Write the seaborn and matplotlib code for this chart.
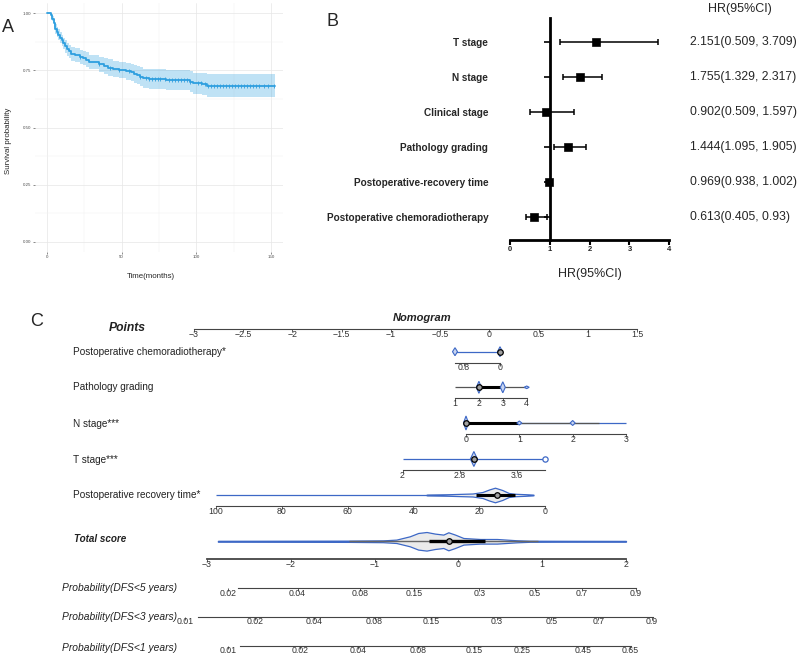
import numpy as np
import matplotlib
matplotlib.use('Agg')
import matplotlib.pyplot as plt
import matplotlib.transforms as mtransforms
import seaborn as sns

# ---------------- A: Kaplan-Meier curve ----------------
km_time = [0, 2.5, 3.5, 4.5, 5.5, 6.5, 7.5, 9, 10, 11, 12, 13.5, 14.5, 16, 19, 22, 24, 26, 28,
           35, 38, 41, 44, 48, 53, 56, 58, 60, 62, 64, 68, 80, 96, 98, 104, 107, 153]
km_surv = [1.0, .99, .975, .956, .93, .917, .905, .892, .88, .867, .854, .842, .833, .822, .815,
           .809, .803, .796, .786, .776, .768, .762, .757, .752, .746, .741, .735, .728, .722,
           .715, .712, .708, .70, .693, .688, .683, .683]
km_upper = [1.0, .998, .987, .972, .95, .939, .928, .916, .905, .893, .881, .87, .862, .852, .845,
            .84, .834, .828, .818, .809, .802, .797, .792, .788, .783, .779, .774, .768, .763,
            .757, .755, .753, .746, .74, .736, .733, .733]
km_lower = [1.0, .982, .963, .94, .91, .895, .882, .868, .855, .841, .827, .814, .804, .792, .785,
            .778, .772, .764, .754, .743, .734, .727, .722, .716, .709, .703, .696, .688, .681,
            .673, .669, .663, .654, .646, .64, .633, .633]
censor_time = [22, 35, 42, 48, 55, 62, 66, 68, 70, 72, 74, 76, 79, 82, 84, 86, 88, 90, 92, 94,
               96, 101, 103, 106, 108, 110, 112, 114, 116, 118, 120, 122, 124, 126, 128, 130,
               132, 134, 136, 138, 140, 142, 145, 148, 152]

# ---------------- B: forest plot ----------------
hr_vars = ['T stage', 'N stage', 'Clinical stage', 'Pathology grading',
           'Postoperative-recovery time', 'Postoperative chemoradiotherapy']
hr = [2.151, 1.755, 0.902, 1.444, 0.969, 0.613]
hr_low = [1.25, 1.329, 0.509, 1.095, 0.938, 0.405]
hr_high = [3.709, 2.317, 1.597, 1.905, 1.002, 0.93]
hr_text = ['2.151(0.509, 3.709)', '1.755(1.329, 2.317)', '0.902(0.509, 1.597)',
           '1.444(1.095, 1.905)', '0.969(0.938, 1.002)', '0.613(0.405, 0.93)']

# ---------------- C: nomogram ----------------
points_ticks = [-3, -2.5, -2, -1.5, -1, -0.5, 0, 0.5, 1, 1.5]
chemo_ticks = [0.8, 0]
path_ticks = [1, 2, 3, 4]
n_ticks = [0, 1, 2, 3]
t_ticks = [2, 2.8, 3.6]
rec_ticks = [100, 80, 60, 40, 20, 0]
total_ticks = [-3, -2, -1, 0, 1, 2]

dfs5_labels = ['0.02', '0.04', '0.08', '0.15', '0.3', '0.5', '0.7', '0.9']
dfs5_pos = [-2.75, -1.92, -1.17, -0.53, 0.25, 0.91, 1.47, 2.12]
dfs3_labels = ['0.01', '0.02', '0.04', '0.08', '0.15', '0.3', '0.5', '0.7', '0.9']
dfs3_pos = [-3.26, -2.43, -1.72, -1.0, -0.33, 0.46, 1.11, 1.67, 2.31]
dfs1_labels = ['0.01', '0.02', '0.04', '0.08', '0.15', '0.25', '0.45', '0.65']
dfs1_pos = [-2.75, -1.89, -1.2, -0.48, 0.19, 0.76, 1.49, 2.05]

# distribution marks of each variable
chemo_violin_pos = [1, 0]
chemo_violin_dens = [4, 5]
path_violin_pos = [2, 3, 4]
path_violin_dens = [6, 5.5, 1.3]
n_violin_pos = [0, 1, 2]
n_violin_dens = [7, 2, 2.5]
t_violin_pos = [3]
t_violin_dens = [7.5]
rec_violin_x = [36, 30, 22, 19, 17, 15.2, 13, 11, 9, 6, 3.5]
rec_violin_dens = [0.3, 0.7, 1.5, 3, 5.5, 7.3, 5, 2, 1.2, 0.8, 0.3]
total_violin_x = [-2.87, -2.0, -1.3, -0.9, -0.74, -0.58, -0.48, -0.38, -0.28, -0.18, -0.12,
                  -0.04, 0.06, 0.26, 0.46, 0.70, 0.85, 1.3, 2.0]
total_violin_dens = [0.4, 0.5, 0.6, 0.9, 1.7, 5.0, 8.3, 9.3, 7.7, 6.7, 9.0, 6.7, 3.3, 2.3, 2.3,
                     1.0, 0.5, 0.4, 0.3]

sns.set_theme(style='ticks')
plt.rcParams['font.family'] = ['Liberation Sans', 'DejaVu Sans']

W, H = 799, 656
fig = plt.figure(figsize=(W / 100, H / 100), dpi=100)


def fx(px):
    return px / W


def fy(py):
    return 1 - py / H


# ---- panel A ----
km_color = '#2E9FDF'
axa = fig.add_axes([fx(35), fy(252), 248 / W, 249 / H])
axa.fill_between(km_time, km_lower, km_upper, step='post', color=km_color, alpha=0.3, lw=0)
sns.lineplot(x=km_time, y=km_surv, drawstyle='steps-post', color=km_color, lw=1.3,
             estimator=None, ax=axa)
cens_y = [km_surv[np.searchsorted(km_time, t, side='right') - 1] for t in censor_time]
axa.plot(censor_time, cens_y, ls='none', marker='|', ms=2.5, mew=0.6, color=km_color)
axa.set_xlim(-8.04, 158.04)
axa.set_ylim(-0.0437, 1.0437)
axa.set_xticks([0, 50, 100, 150])
axa.set_xticks([25, 75, 125], minor=True)
axa.set_yticks([0, 0.25, 0.5, 0.75, 1])
axa.set_yticklabels(['0.00', '0.25', '0.50', '0.75', '1.00'])
axa.set_yticks([0.125, 0.375, 0.625, 0.875], minor=True)
axa.grid(True, which='major', color='#e6e6e6', lw=0.5)
axa.grid(True, which='minor', color='#f2f2f2', lw=0.35)
axa.set_axisbelow(True)
axa.tick_params(which='major', length=1.5, width=0.4, color='#333333', labelsize=3.2,
                labelcolor='#4d4d4d', pad=1)
axa.tick_params(which='minor', length=0)
for sp in axa.spines.values():
    sp.set_visible(False)
axa.set_ylabel('Survival probability', fontsize=5.7)
axa.yaxis.set_label_coords(-0.094, 0.446)
axa.set_xlabel('Time(months)', fontsize=5.7)
axa.xaxis.set_label_coords(0.468, -0.085)
fig.text(fx(8), fy(27), 'A', fontsize=13, ha='center', va='center')

# ---- panel B ----
axb = fig.add_axes([fx(510), fy(240), (669.3 - 510) / W, 222 / H])
ypos = np.arange(len(hr_vars))[::-1]
hr_a = np.array(hr)
axb.errorbar(hr_a, ypos, xerr=[hr_a - np.array(hr_low), np.array(hr_high) - hr_a], fmt='none',
             ecolor='black', elinewidth=1.1, capsize=2.4, capthick=1.1, zorder=2)
sns.scatterplot(x=hr, y=ypos, marker='s', s=34, color='black', edgecolor='black',
                legend=False, zorder=3, ax=axb)
axb.set_xlim(0, 4)
axb.set_ylim(-0.668, 5.697)
axb.spines['top'].set_visible(False)
axb.spines['right'].set_visible(False)
axb.spines['left'].set_position(('data', 1))
axb.spines['left'].set_linewidth(2)
axb.spines['bottom'].set_linewidth(2)
axb.spines['left'].set_color('black')
axb.spines['bottom'].set_color('black')
axb.set_xticks([0, 1, 2, 3, 4])
axb.set_yticks(ypos)
axb.set_yticklabels(hr_vars, fontweight='bold', fontsize=7.2)
axb.tick_params(axis='x', length=3.6, width=1.5, pad=0.8, labelsize=5.5, color='black')
axb.tick_params(axis='y', length=4.3, width=1.2, pad=40, color='black')
for lbl in axb.get_xticklabels():
    lbl.set_fontweight('bold')
blend = mtransforms.blended_transform_factory(axb.transAxes, axb.transData)
for y, txt in zip(ypos, hr_text):
    axb.text(1.13, y, txt, transform=blend, va='center', ha='left', fontsize=8.8)
axb.set_xlabel('HR(95%CI)', fontsize=9)
axb.xaxis.set_label_coords(0.5, -0.125)
fig.text(fx(740), fy(9), 'HR(95%CI)', fontsize=9, ha='center', va='center')
fig.text(fx(332), fy(22), 'B', fontsize=13, ha='center', va='center')

# ---- panel C ----
blue = '#3d68c6'
axis_col = '#444444'
txt_col = '#222222'


def nomo_axis(y_axis, gap, anchors, bounds, ticks, labels, lw=0.8):
    (v0, p0), (v1, p1) = anchors
    s = (p1 - p0) / (v1 - v0)
    ax = fig.add_axes([0, fy(y_axis), 1, 2 * gap / H])
    ax.set_xlim(v0 - p0 / s, v0 + (W - p0) / s)
    ax.set_ylim(-1, 1)
    ax.patch.set_alpha(0)
    for side in ['top', 'left', 'right']:
        ax.spines[side].set_visible(False)
    ax.spines['bottom'].set_bounds(*bounds)
    ax.spines['bottom'].set_color(axis_col)
    ax.spines['bottom'].set_linewidth(lw)
    ax.set_yticks([])
    ax.set_xticks(ticks)
    ax.set_xticklabels(labels)
    ax.tick_params(axis='x', length=2.5, width=0.6, pad=-2, labelsize=6.3, color=axis_col,
                   labelcolor='#333333')
    return ax, abs(s), gap


def fmt(v):
    return str(v).replace('-', '\u2212')


def seg(ax, rng, color, lw, z=2):
    ax.plot(rng, [0, 0], color=color, lw=lw, solid_capstyle='butt', zorder=z, clip_on=False)


def small_violins(ax, s, gap, pos, dens, hw_px=2.5):
    w = hw_px / s
    for v, d in zip(pos, dens):
        h = d / gap
        ax.fill([v - w, v, v + w, v], [0, h, 0, -h], facecolor='#c9d5f0', edgecolor=blue,
                lw=0.8, zorder=4, clip_on=False)


def median(ax, m):
    ax.plot(m, 0, 'o', ms=4, mfc='#a0a0a0', mec='black', mew=0.9, zorder=6, clip_on=False)


# Points axis
nomo_axis(329.3, 10, [(-3, 194), (1.5, 637)], (-3, 1.5), points_ticks,
          [fmt(v) for v in points_ticks])

# chemo
ax, s, g = nomo_axis(362.7, 11, [(1, 455), (0, 500)], (1, 0), chemo_ticks, ['0.8', '0'])
seg(ax, (1, 0), blue, 0.9)
small_violins(ax, s, g, chemo_violin_pos, chemo_violin_dens)
median(ax, 0)

# pathology
ax, s, g = nomo_axis(398.3, 11, [(1, 455), (4, 526.7)], (1, 4), path_ticks,
                     [str(v) for v in path_ticks])
seg(ax, (1, 4), '#555555', 0.9)
seg(ax, (2, 3), 'black', 2.2, z=3)
small_violins(ax, s, g, path_violin_pos, path_violin_dens)
median(ax, 2)

# N stage
ax, s, g = nomo_axis(434, 11, [(0, 466), (3, 626)], (0, 3), n_ticks, [str(v) for v in n_ticks])
seg(ax, (0, 3), blue, 0.9)
seg(ax, (0, 2.5), '#555555', 0.9)
seg(ax, (0, 1), 'black', 2.2, z=3)
small_violins(ax, s, g, n_violin_pos, n_violin_dens)
median(ax, 0)

# T stage
ax, s, g = nomo_axis(470, 11, [(2, 402.5), (3.6, 516.7)], (2, 4), t_ticks,
                     [str(v) for v in t_ticks])
seg(ax, (2, 4), blue, 0.9)
small_violins(ax, s, g, t_violin_pos, t_violin_dens, hw_px=3.5)
median(ax, 3)
ax.plot(4, 0, 'o', ms=3.8, mfc='white', mec=blue, mew=0.9, zorder=6, clip_on=False)

# recovery time
ax, s, g = nomo_axis(506, 11, [(100, 216), (0, 545)], (100, 0), rec_ticks,
                     [str(v) for v in rec_ticks])
seg(ax, (100, 3.5), blue, 0.9)
seg(ax, (36, 6), '#555555', 0.9)
ax.fill_between(rec_violin_x, -np.array(rec_violin_dens) / g, np.array(rec_violin_dens) / g,
                facecolor='#ebebeb', edgecolor=blue, lw=0.9, zorder=2)
seg(ax, (21, 9), 'black', 2.2, z=3)
median(ax, 14.6)

# total score
ax, s, g = nomo_axis(559.3, 18, [(-3, 207), (2, 626)], (-3, 2), total_ticks,
                     [fmt(v) for v in total_ticks], lw=1.3)
seg(ax, (-2.87, 2.0), blue, 0.9)
ax.fill_between(total_violin_x, -np.array(total_violin_dens) / g,
                np.array(total_violin_dens) / g, facecolor='#ebebeb', edgecolor=blue, lw=0.9,
                zorder=2)
seg(ax, (-1.3, 0.95), '#666666', 1.0, z=3)
seg(ax, (-0.35, 0.32), 'black', 2.4, z=4)
median(ax, -0.11)

# probability axes
total_anchor = [(-3, 207), (2, 626)]
nomo_axis(588.3, 6, total_anchor, (-2.63, 2.12), dfs5_pos, dfs5_labels)
nomo_axis(616.7, 6, total_anchor, (-3.11, 2.32), dfs3_pos, dfs3_labels)
nomo_axis(645.7, 6, total_anchor, (-2.61, 2.06), dfs1_pos, dfs1_labels)

# row labels
fig.text(fx(37), fy(322), 'C', fontsize=13, ha='center', va='center')
fig.text(fx(127), fy(328), 'Points', fontsize=8.7, fontweight='bold', style='italic',
         ha='center', va='center', color=txt_col)
fig.text(fx(422), fy(318), 'Nomogram', fontsize=8, fontweight='bold', style='italic',
         ha='center', va='center', color=txt_col)
var_labels = ['Postoperative chemoradiotherapy*', 'Pathology grading', 'N stage***',
              'T stage***', 'Postoperative recovery time*']
for lab, yy in zip(var_labels, [352, 387.5, 424, 460, 495]):
    fig.text(fx(73), fy(yy), lab, fontsize=7.2, ha='left', va='center', color=txt_col)
fig.text(fx(74), fy(539), 'Total score', fontsize=7.1, fontweight='bold', style='italic',
         ha='left', va='center', color=txt_col)
prob_labels = ['Probability(DFS<5 years)', 'Probability(DFS<3 years)', 'Probability(DFS<1 years)']
for lab, yy in zip(prob_labels, [588, 617, 648]):
    fig.text(fx(62), fy(yy), lab, fontsize=7.4, style='italic', ha='left', va='center',
             color=txt_col)

fig.savefig('out.png', dpi=100)
